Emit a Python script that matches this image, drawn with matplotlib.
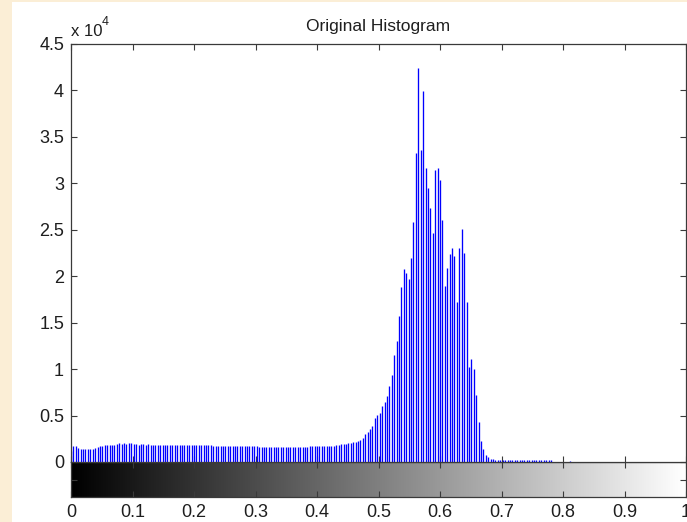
import numpy as np
import matplotlib
matplotlib.use("Agg")
import matplotlib.pyplot as plt
from matplotlib.patches import Rectangle

plt.rcParams['font.family'] = ['Liberation Sans', 'DejaVu Sans']

# ---------------- data ----------------
title_text = "Original Histogram"
n_bins = 256
low_counts = [
    1150, 1750, 1700, 1500, 1420, 1430, 1440, 1430, 1450, 1440, 1480,
    1650, 1700, 1720, 1800, 1820, 1850, 1830, 1870,
    1950, 2000, 1980, 2010, 1990, 2020, 2000,
    1900, 1920, 1880, 1910, 1900, 1880, 1890, 1870, 1850,
    1800, 1820, 1790, 1810, 1800, 1780, 1800, 1820, 1810, 1790, 1800, 1830,
    1850, 1860, 1840, 1870, 1850, 1860, 1840, 1850, 1830, 1850, 1860, 1840,
    1760, 1750, 1740, 1760, 1750, 1740, 1750, 1730, 1750, 1760, 1740, 1750,
    1730, 1740, 1750, 1760, 1740, 1730, 1750,
    1650, 1660, 1640, 1650, 1630, 1660, 1640, 1650, 1630, 1640, 1660, 1650,
    1640, 1630, 1650, 1640, 1660, 1650, 1630, 1640, 1650,
    1700, 1720, 1690, 1710, 1700, 1720, 1730, 1710, 1750, 1760, 1740, 1780,
    1850, 1900, 1920, 1950, 2000, 2050,
]
peak_counts = [
    2100, 2150, 2250, 2400, 2600, 3000, 3200, 3500, 3900, 4700,
    5100, 5300, 6000, 6500, 7100, 8200, 9400, 11500, 13000, 15700,
    18800, 20800, 20300, 19700, 22000, 25800, 33300, 42400, 33600, 39900,
    31600, 29500, 27300, 24700, 31400, 31700, 30400, 26000, 19000, 20900,
    22400, 23000, 22200, 17200, 23000, 25100, 22500, 17200, 10200, 11100,
    10000, 7200, 4300, 2300, 1400, 800, 500, 350, 300,
]
tail_counts = [
    240, 220, 230, 210, 220, 230, 220, 210, 220, 230, 220, 210,
    220, 230, 210, 220, 220, 210, 230, 220, 210, 220, 210, 200,
    0, 0, 0, 0, 0, 0, 0, 150,
]
counts = low_counts + peak_counts + tail_counts
counts = counts + [0] * (n_bins - len(counts))
counts = np.array(counts[:n_bins], dtype=float)
bin_centers = np.linspace(0, 1, n_bins)

ytick_values = [0, 5000, 10000, 15000, 20000, 25000, 30000, 35000, 40000, 45000]
ytick_labels = ["0", "0.5", "1", "1.5", "2", "2.5", "3", "3.5", "4", "4.5"]
xtick_values = [0, 0.1, 0.2, 0.3, 0.4, 0.5, 0.6, 0.7, 0.8, 0.9, 1.0]
xtick_labels = ["0", "0.1", "0.2", "0.3", "0.4", "0.5", "0.6", "0.7", "0.8", "0.9", "1"]

# ---------------- figure ----------------
W, H = 687, 522
fig = plt.figure(figsize=(W / 100, H / 100), dpi=100)
fig.patch.set_facecolor('#FBEED6')
fig.patches.append(Rectangle((12 / W, 0), 1 - 12 / W, (H - 2) / H,
                             transform=fig.transFigure, facecolor='white',
                             edgecolor='none', zorder=-5))

left, right = 71, 686
top, zero_y, cb_bottom = 44, 462, 497
ax = fig.add_axes([left / W, 1 - zero_y / H, (right - left) / W, (zero_y - top) / H])
cax = fig.add_axes([left / W, 1 - cb_bottom / H, (right - left) / W, (cb_bottom - zero_y) / H])
ax.set_zorder(2)
cax.set_zorder(1)

spine_col = '#3a3a3a'
tick_kw = dict(direction='in', length=4.3, width=0.8, color=spine_col,
               labelsize=13, labelcolor='#1e1e1e', pad=5.0)

ax.vlines(bin_centers, 0, counts, colors='#0000FF', linewidth=0.95)
ax.set_xlim(0, 1)
ax.set_ylim(0, 45000)
ax.set_yticks(ytick_values)
ax.set_yticklabels(ytick_labels)
ax.set_xticks(xtick_values)
ax.tick_params(axis='both', which='both', top=True, right=True,
               labelbottom=False, **tick_kw)
for s in ax.spines.values():
    s.set_color(spine_col)
    s.set_linewidth(0.9)
ax.set_facecolor('white')

gradient = np.linspace(0, 1, 256).reshape(1, -1)
cax.imshow(gradient, aspect='auto', cmap='gray', extent=[0, 1, 0, 1], vmin=0, vmax=1)
cax.set_xlim(0, 1)
cax.set_ylim(0, 1)
cax.set_xticks(xtick_values)
cax.set_xticklabels(xtick_labels)
cax.set_yticks([0.5])
cax.tick_params(axis='both', which='both', top=True, right=True,
                labelleft=False, **tick_kw)
for s in cax.spines.values():
    s.set_color(spine_col)
    s.set_linewidth(0.9)

# title and exponent
fig.text((left + right) / 2 / W, 1 - 31.5 / H, title_text, ha='center',
         va='baseline', fontsize=12.5, color='#1e1e1e')
fig.text(left / W, 1 - 36.5 / H, "x 10", ha='left', va='baseline',
         fontsize=12, color='#1e1e1e')
fig.text(102 / W, 1 - 25 / H, "4", ha='left', va='baseline',
         fontsize=9, color='#1e1e1e')

fig.savefig("out.png", dpi=100, facecolor=fig.get_facecolor())
